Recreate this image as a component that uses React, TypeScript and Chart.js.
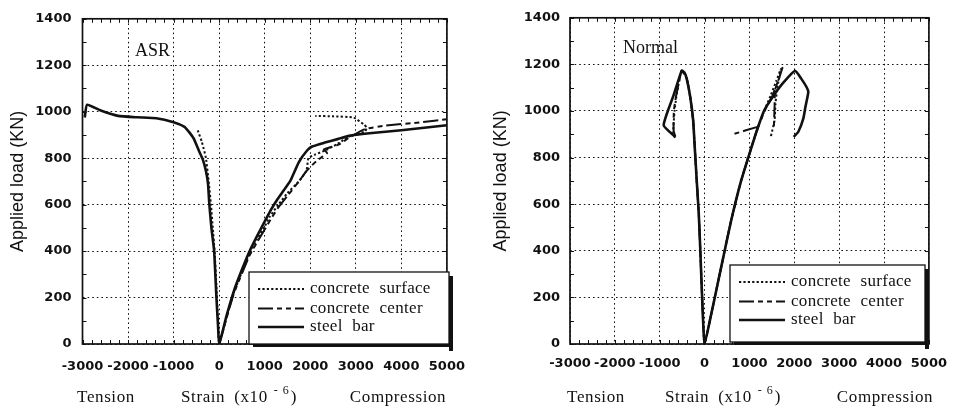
import React, { useEffect, useRef } from "react";
import { Chart, registerables } from "chart.js";

Chart.register(...registerables);

// Axis ranges and tick labels (strain in x10^-6, load in kN)
const strainTicks = [-3000, -2000, -1000, 0, 1000, 2000, 3000, 4000, 5000];
const loadTicks = [0, 200, 400, 600, 800, 1000, 1200, 1400];

const seriesLabels = ["concrete surface", "concrete center", "steel bar"];

// ASR specimen
const asrSurfaceStrain = [-470, -380, -290, -230, -180, -140, -100, -60, -25, 0, 160, 330, 500, 660, 830, 1000, 1100, 1300, 1500, 1750, 1900, 1930, 1960, 2100, 2350, 2600, 2850, 3050, 3200, 3240, 3170, 2950, 2500, 2110];
const asrSurfaceLoad = [920, 870, 800, 700, 600, 500, 400, 250, 100, 0, 115, 225, 310, 385, 450, 505, 545, 600, 650, 700, 740, 760, 800, 815, 835, 862, 893, 905, 915, 932, 946, 975, 980, 982];

const asrCenterStrain = [0, 160, 330, 500, 660, 830, 1000, 1150, 1300, 1500, 1750, 1930, 2150, 2370, 2300, 2620, 2850, 3200, 3650, 4450, 5000];
const asrCenterLoad = [0, 110, 222, 303, 378, 438, 493, 543, 588, 638, 700, 748, 790, 822, 838, 858, 888, 925, 940, 955, 968];

const asrSteelStrain = [-2950, -2900, -2600, -2220, -1800, -1380, -1000, -760, -650, -560, -440, -360, -290, -245, -215, -170, -110, -60, -25, 0, 160, 328, 490, 655, 820, 983, 1130, 1273, 1420, 1565, 1750, 1930, 2040, 2300, 2600, 2850, 3300, 4000, 4500, 5000];
const asrSteelLoad = [975, 1030, 1005, 982, 976, 972, 955, 935, 910, 885, 830, 795, 745, 690, 600, 500, 400, 200, 80, 0, 120, 231, 315, 394, 460, 521, 575, 621, 662, 703, 783, 833, 850, 866, 882, 896, 907, 920, 931, 942];

// Normal specimen
const normalSurfaceStrain = [-660, -700, -670, -630, -580, -510, -400, -320, -255, -215, -175, -130, -95, -55, 0, 150, 370, 590, 810, 1030, 1200, 1350, 1480, 1600, 1700, 1620, 1580, 1560, 1470];
const normalSurfaceLoad = [885, 905, 1000, 1060, 1115, 1173, 1140, 1060, 960, 830, 700, 560, 400, 200, 0, 130, 330, 528, 698, 835, 935, 1010, 1070, 1130, 1180, 1100, 1030, 960, 885];

const normalCenterStrain = [-650, -690, -685, -640, -580, -510, -400, -320, -255, -215, -175, -130, -95, -55, 0, 150, 370, 590, 810, 1030, 1180, 1350, 1500, 1600, 1660, 1735, 1640, 1570, 1560, 1545, 1400, 1180, 626];
const normalCenterLoad = [890, 915, 1000, 1060, 1115, 1173, 1140, 1060, 960, 830, 700, 560, 400, 200, 0, 130, 330, 528, 698, 835, 925, 1005, 1060, 1110, 1140, 1185, 1130, 1090, 1020, 935, null, 932, 900];

const normalSteelStrain = [-655, -912, -692, -510, -450, -400, -320, -255, -215, -175, -130, -95, -55, 0, 150, 370, 590, 810, 1030, 1180, 1330, 1540, 1760, 2018, 2150, 2275, 2312, 2250, 2200, 2090, 1985];
const normalSteelLoad = [889, 939, 1067, 1173, 1165, 1140, 1060, 960, 830, 700, 560, 400, 200, 0, 130, 330, 528, 698, 835, 925, 1003, 1067, 1123, 1173, 1140, 1102, 1081, 1020, 967, 911, 889];

type Pt = { x: number; y: number | null };
const toPoints = (xs: number[], ys: (number | null)[]): Pt[] => xs.map((x, i) => ({ x, y: ys[i] }));

const lineStyles = [
  { dash: [2.2, 2.2], width: 2 },
  { dash: [15, 4, 5, 4, 5, 4], width: 2 },
  { dash: [] as number[], width: 2.6 },
];

type PanelSpec = {
  name: string;
  series: Pt[][];
  canvasWidth: number;
  offsetLeft: number;
  plotLeft: number;
  plotRight: number;
  yTickPad: number;
  xTickPad: number;
  yTitlePad: number;
  legendBox: { x1: number; y1: number; x2: number; y2: number };
  namePos: { x: number; y: number };
  titleX: { tension: number; strain: number; compression: number };
};

const INK = "#111";
const SERIF = "'Liberation Serif', 'DejaVu Serif', serif";
const TICK_FONT = { family: "'DejaVu Sans', sans-serif", weight: "bold" as const, size: 13 };

function decorPlugin(spec: PanelSpec) {
  return {
    id: "panelDecor",
    afterDatasetsDraw(chart: any) {
      const { ctx, chartArea: a, scales } = chart;
      const xs = scales.x;
      const ys = scales.y;
      ctx.save();
      // minor inward ticks on all four sides
      ctx.strokeStyle = INK;
      ctx.lineWidth = 1;
      ctx.beginPath();
      for (let v = loadTicks[0]; v <= loadTicks[loadTicks.length - 1]; v += 100) {
        const py = Math.round(ys.getPixelForValue(v)) + 0.5;
        ctx.moveTo(a.left, py);
        ctx.lineTo(a.left + 4, py);
        ctx.moveTo(a.right, py);
        ctx.lineTo(a.right - 4, py);
      }
      for (let v = strainTicks[0]; v <= strainTicks[strainTicks.length - 1]; v += 200) {
        const px = Math.round(xs.getPixelForValue(v)) + 0.5;
        ctx.moveTo(px, a.top);
        ctx.lineTo(px, a.top + 4);
        ctx.moveTo(px, a.bottom);
        ctx.lineTo(px, a.bottom - 4);
      }
      ctx.stroke();

      // plot frame
      ctx.lineWidth = 1.7;
      ctx.strokeRect(a.left, a.top, a.right - a.left, a.bottom - a.top);

      // legend box with drop shadow
      const b = spec.legendBox;
      ctx.fillStyle = "#fff";
      ctx.fillRect(b.x1, b.y1, b.x2 - b.x1, b.y2 - b.y1);
      ctx.fillStyle = INK;
      ctx.fillRect(b.x2, b.y1 + 4, 4, b.y2 - b.y1 + 3);
      ctx.fillRect(b.x1 + 4, b.y2, b.x2 - b.x1, 3);
      ctx.lineWidth = 1.3;
      ctx.strokeStyle = INK;
      ctx.strokeRect(b.x1, b.y1, b.x2 - b.x1, b.y2 - b.y1);

      const rows = [17, 36.5, 55];
      ctx.font = `17px ${SERIF}`;
      (ctx as any).wordSpacing = "5px";
      (ctx as any).letterSpacing = "0.3px";
      ctx.textBaseline = "middle";
      ctx.textAlign = "left";
      seriesLabels.forEach((label, i) => {
        const y = b.y1 + rows[i];
        const st = lineStyles[i];
        ctx.beginPath();
        ctx.setLineDash(st.dash);
        ctx.lineWidth = st.width;
        ctx.moveTo(b.x1 + 9, y);
        ctx.lineTo(b.x1 + 55, y);
        ctx.stroke();
        ctx.setLineDash([]);
        ctx.fillText(label, b.x1 + 61, y);
      });
      ctx.restore();
    },
    afterDraw(chart: any) {
      const { ctx } = chart;
      ctx.save();
      ctx.fillStyle = INK;
      ctx.textBaseline = "middle";
      ctx.textAlign = "left";
      ctx.font = `18px ${SERIF}`;
      ctx.fillText(spec.name, spec.namePos.x, spec.namePos.y);

      // strain axis captions
      const base = 402;
      ctx.textBaseline = "alphabetic";
      ctx.font = `17px ${SERIF}`;
      (ctx as any).letterSpacing = "0.6px";
      ctx.textAlign = "center";
      ctx.fillText("Tension", spec.titleX.tension, base);
      ctx.fillText("Compression", spec.titleX.compression, base);
      ctx.textAlign = "left";
      let x = spec.titleX.strain;
      ctx.fillText("Strain", x, base);
      x += ctx.measureText("Strain").width + 9;
      ctx.fillText("(x10", x, base);
      x += ctx.measureText("(x10").width + 6;
      ctx.font = `12px ${SERIF}`;
      (ctx as any).letterSpacing = "1px";
      ctx.fillText("- 6", x, base - 8);
      x += ctx.measureText("- 6").width + 1;
      ctx.font = `17px ${SERIF}`;
      (ctx as any).letterSpacing = "0.6px";
      ctx.fillText(")", x, base);
      ctx.restore();
    },
  };
}

function Panel({ spec }: { spec: PanelSpec }) {
  const ref = useRef<HTMLCanvasElement>(null);
  useEffect(() => {
    if (!ref.current) return;
    const datasets = spec.series.map((pts, i) => ({
      label: seriesLabels[i],
      data: pts,
      showLine: true,
      borderColor: INK,
      backgroundColor: INK,
      borderWidth: lineStyles[i].width,
      borderDash: lineStyles[i].dash,
      pointRadius: 0,
      tension: 0.15,
      spanGaps: false,
      fill: false,
    }));
    const chart = new Chart(ref.current, {
      type: "scatter",
      data: { datasets },
      plugins: [decorPlugin(spec)],
      options: {
        responsive: false,
        animation: false,
        devicePixelRatio: 1,
        events: [],
        layout: { padding: { left: 0, top: 15, right: spec.canvasWidth - spec.plotRight, bottom: 0 } },
        plugins: { legend: { display: false }, tooltip: { enabled: false } },
        scales: {
          x: {
            type: "linear",
            min: strainTicks[0],
            max: strainTicks[strainTicks.length - 1],
            afterBuildTicks: (s: any) => {
              s.ticks = strainTicks.map((value) => ({ value }));
            },
            afterFit: (s: any) => {
              s.height = 65;
            },
            ticks: {
              autoSkip: false,
              maxRotation: 0,
              minRotation: 0,
              padding: spec.xTickPad,
              color: INK,
              font: TICK_FONT,
              callback: (v: any) => String(v),
            },
            grid: { color: INK, lineWidth: 1, drawTicks: false },
            border: { display: false, dash: [1.6, 3] },
          },
          y: {
            type: "linear",
            min: loadTicks[0],
            max: loadTicks[loadTicks.length - 1],
            afterBuildTicks: (s: any) => {
              s.ticks = loadTicks.map((value) => ({ value }));
            },
            afterFit: (s: any) => {
              s.width = spec.plotLeft;
            },
            ticks: {
              padding: spec.yTickPad,
              color: INK,
              font: TICK_FONT,
              callback: (v: any) => String(v),
            },
            grid: { color: INK, lineWidth: 1, drawTicks: false },
            border: { display: false, dash: [1.6, 3] },
            title: {
              display: true,
              text: "Applied load (KN)",
              color: INK,
              font: { family: "'Liberation Sans', Arial, sans-serif", size: 18 },
              padding: { top: spec.yTitlePad, bottom: 0 },
            },
          },
        },
      } as any,
    });
    return () => chart.destroy();
  }, [spec]);
  return (
    <canvas
      ref={ref}
      width={spec.canvasWidth}
      height={409}
      style={{ position: "absolute", left: spec.offsetLeft, top: 0, width: spec.canvasWidth, height: 409 }}
    />
  );
}

const asrPanel: PanelSpec = {
  name: "ASR",
  series: [
    toPoints(asrSurfaceStrain, asrSurfaceLoad),
    toPoints(asrCenterStrain, asrCenterLoad),
    toPoints(asrSteelStrain, asrSteelLoad),
  ],
  canvasWidth: 480,
  offsetLeft: 0,
  plotLeft: 82.5,
  plotRight: 449,
  yTickPad: 11,
  xTickPad: 15,
  yTitlePad: 7,
  legendBox: { x1: 249, y1: 272, x2: 449, y2: 344 },
  namePos: { x: 135, y: 51 },
  titleX: { tension: 106, strain: 181, compression: 398 },
};

const normalPanel: PanelSpec = {
  name: "Normal",
  series: [
    toPoints(normalSurfaceStrain, normalSurfaceLoad),
    toPoints(normalCenterStrain, normalCenterLoad),
    toPoints(normalSteelStrain, normalSteelLoad),
  ],
  canvasWidth: 479,
  offsetLeft: 480,
  plotLeft: 90,
  plotRight: 454.5,
  yTickPad: 10,
  xTickPad: 12,
  yTitlePad: 10,
  legendBox: { x1: 250, y1: 265, x2: 445, y2: 342 },
  namePos: { x: 143, y: 48 },
  titleX: { tension: 116, strain: 185, compression: 405 },
};

export default function App() {
  return (
    <div style={{ position: "fixed", left: 0, top: 0, width: 959, height: 409, background: "#fff" }}>
      <Panel spec={asrPanel} />
      <Panel spec={normalPanel} />
    </div>
  );
}
